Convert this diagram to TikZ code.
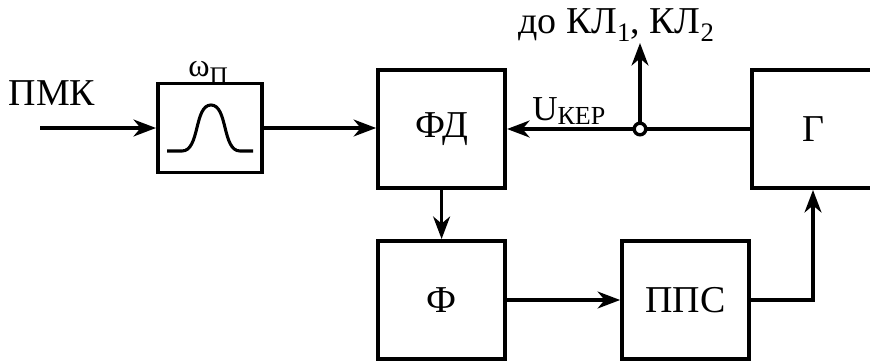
\documentclass[tikz,border=0pt]{standalone}
\usepackage{fontspec}
\setmainfont{Liberation Serif}
\usetikzlibrary{arrows.meta}
\newcommand{\indeks}[3]{\raisebox{-#1}{\fontsize{#2}{#2}\selectfont #3}}
\tikzset{
  blok/.style={draw, line width=2.8pt, inner sep=0pt, minimum width=3.175cm, minimum height=2.95cm,
    font=\fontsize{27pt}{30pt}\selectfont},
  sig/.style={line width=2.4pt, -{Stealth[length=16pt,width=12pt,inset=5pt]}},
  vuzol/.style={circle, draw, fill=white, line width=2.4pt, inner sep=0pt, minimum size=0.29cm}
}
\begin{document}
\begin{tikzpicture}
\useasboundingbox (0,0) rectangle (21.75,9.05);
% blocks
\node[blok, minimum width=2.6cm, minimum height=2.225cm] (filtr) at (5.25,5.85) {};
\node[blok] (fd) at (11.04,5.825) {ФД};
\node[blok, minimum width=3.05cm] (gen) at (20.325,5.825) {Г};
\node[blok] (f) at (11.04,1.55) {Ф};
\node[blok] (pps) at (17.14,1.55) {ППС};
\node[vuzol] (uzol) at (16.0,5.825) {};
\coordinate (vhid) at (1.0,5.85);
\coordinate (vyhid) at (16.0,7.975);
% labels
\node[font=\fontsize{27pt}{30pt}\selectfont] (pmk) at (1.3,6.725) {ПМК};
\node[anchor=base west, inner sep=0pt, font=\fontsize{23pt}{25pt}\selectfont] (omega) at (4.7,7.15)
  {ω\indeks{5.7pt}{18pt}{П}};
\node[anchor=base west, inner sep=0pt, font=\fontsize{24.9pt}{27pt}\selectfont] (ukep) at (13.3,6.05)
  {U\indeks{3.5pt}{18.5pt}{КЕР}};
\node[anchor=base west, inner sep=0pt, font=\fontsize{27pt}{30pt}\selectfont] (kl) at (12.95,8.225)
  {до КЛ\indeks{6.4pt}{19pt}{1}, КЛ\indeks{6.4pt}{19pt}{2}};
% filter curve
\draw[line width=2.2pt] (4.175,5.275) -- (4.55,5.275) .. controls (5.0,5.275) and (4.85,6.425) .. (5.275,6.425)
  .. controls (5.7,6.425) and (5.55,5.275) .. (6.0,5.275) -- (6.325,5.275);
% connections
\draw[sig] (vhid) -- (filtr.west);
\draw[sig] (filtr.east) -- (fd.west |- filtr.east);
\draw[line width=2.4pt] (gen.west) -- (uzol.east);
\draw[sig] (uzol.west) -- (fd.east);
\draw[sig] (uzol.north) -- (vyhid);
\draw[sig] (fd.south) -- (f.north);
\draw[sig] (f.east) -- (pps.west);
\draw[sig] (pps.east) -| (gen.south);
\end{tikzpicture}
\end{document}
